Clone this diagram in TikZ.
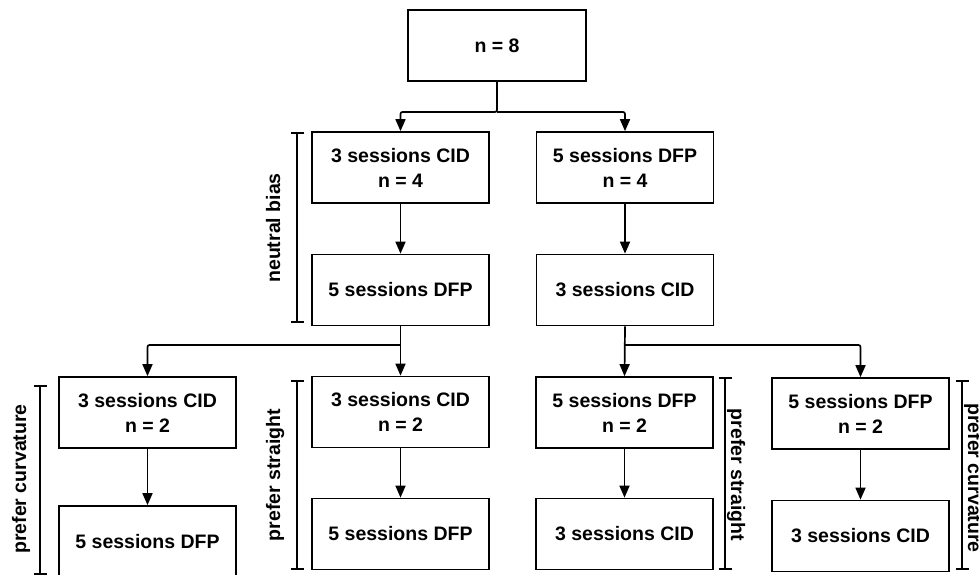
\documentclass[tikz,border=0pt]{standalone}
\usepackage{fontspec}
\setmainfont{Liberation Sans}
\usetikzlibrary{arrows.meta}

\tikzset{
  box/.style={draw,line width=1.7pt,minimum width=177pt,minimum height=71pt,
    align=center,inner sep=0pt,font=\fontsize{19.5}{25}\selectfont\bfseries},
  arr/.style={-{Triangle[length=12pt,width=10pt]},line width=1.7pt,rounded corners=2pt},
  span/.style={{Bar[width=13pt]}-{Bar[width=13pt]},line width=1.7pt},
  lab/.style={font=\fontsize{19.5}{25}\selectfont\bfseries,inner sep=0pt,anchor=base}
}

\begin{document}
\begin{tikzpicture}[x=1pt,y=-1pt]
    \clip (0,0) rectangle (979,575);
    % top and neutral part
    \node [box,minimum width=178pt] (all) at (497,45.5) {n = 8};
    \node [box] (cid4) at (400.5,167.5) {3 sessions CID\\n = 4};
    \node [box] (dfp4) at (625,167.5) {5 sessions DFP\\n = 4};
    \node [box] (dfp4b) at (400.5,290) {5 sessions DFP};
    \node [box] (cid4b) at (625,290) {3 sessions CID};
    % biased part
    \node [box] (r4a) at (147.5,412.5) {3 sessions CID\\n = 2};
    \node [box] (r4b) at (400.5,412) {3 sessions CID\\n = 2};
    \node [box] (r4c) at (624.5,412.5) {5 sessions DFP\\n = 2};
    \node [box] (r4d) at (860.5,413.5) {5 sessions DFP\\n = 2};
    \node [box] (r5a) at (147.5,541.5) {5 sessions DFP};
    \node [box] (r5b) at (400.5,534) {5 sessions DFP};
    \node [box] (r5c) at (624.5,534) {3 sessions CID};
    \node [box] (r5d) at (860.5,536) {3 sessions CID};
    \coordinate (split0) at (497,112);
    \coordinate (split1) at (400.5,345);
    \coordinate (split2) at (624.5,345);
    \draw [arr] (all.south) -- (split0) -| (cid4.north);
    \draw [arr] (split0) -| (dfp4.north);
    \draw [arr] (cid4) -- (dfp4b);
    \draw [arr] (dfp4) -- (cid4b);
    \draw [arr] (dfp4b.south) -- (r4b.north);
    \draw [arr] (split1) -| (r4a.north);
    \draw [arr] (cid4b.south) -- (r4c.north);
    \draw [arr] (split2) -| (r4d.north);
    \foreach \c in {a,b,c,d}
      \draw [arr] (r4\c) -- (r5\c);
    % brackets
    \draw [span] (297,132) -- (297,323);
    \node [lab,rotate=90] (nbias) at (280,228) {neutral bias};
    \draw [span] (40,385) -- (40,575);
    \node [lab,rotate=90] (curvl) at (26,479) {prefer curvature};
    \draw [span] (297,380) -- (297,570);
    \node [lab,rotate=90] (strl) at (280,475) {prefer straight};
    \draw [span] (725,377) -- (725,570);
    \node [lab,rotate=-90] (strr) at (731,475) {prefer straight};
    \draw [span] (962,380) -- (962,570);
    \node [lab,rotate=-90] (curvr) at (968,478) {prefer curvature};
\end{tikzpicture}
\end{document}
